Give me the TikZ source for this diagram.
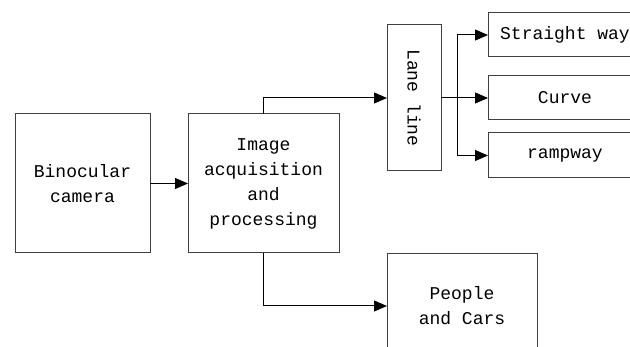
\documentclass[tikz,border=0pt]{standalone}
\usepackage{fontspec}
\setmonofont{Liberation Mono}
\usetikzlibrary{arrows.meta}
\begin{document}
\begin{tikzpicture}[x=1pt,y=-1pt,
  box/.style={draw=black!75,line width=1pt,inner sep=0pt,outer sep=0pt,rectangle,
    font=\ttfamily\fontsize{18}{25}\selectfont,align=center},
  conn/.style={draw=black,line width=1pt,-{Triangle[length=13pt,width=11pt]}},
  plain/.style={draw=black,line width=1pt}]
\useasboundingbox (0,0) rectangle (630,347);
\clip (0,0) rectangle (630,347);
\fill[white] (0,0) rectangle (630,347);
\node[box,minimum width=135pt,minimum height=139pt] (cam) at (82.5,183.5) {Binocular\\camera};
\node[box,minimum width=151pt,minimum height=139pt] (img) at (263.5,183.5) {Image\\acquisition\\and\\processing};
\node[box,minimum width=54pt,minimum height=146pt] (lane) at (414,98) {};
\node[font=\ttfamily\fontsize{18}{25}\selectfont,rotate=-90,inner sep=0pt] (lanetxt) at (lane.center) {Lane line};
\node[box,minimum width=154pt,minimum height=44pt] (sw) at (565,35) {Straight way};
\node[box,minimum width=154pt,minimum height=44pt] (cv) at (565,98) {Curve};
\node[box,minimum width=154pt,minimum height=45pt] (rw) at (565,155.5) {rampway};
\node[box,minimum width=150pt,minimum height=104pt] (pc) at (462,306) {People\\and Cars};
\coordinate (br) at (457,98);
\draw[conn] (cam.east) -- (img.west);
\draw[conn] (img.north) |- (lane.west);
\draw[plain] (lane.east) -- (br);
\draw[conn] (br) |- (sw.west);
\draw[conn] (br) -- (cv.west);
\draw[conn] (br) |- (rw.west);
\draw[conn] (img.south) |- (pc.west);
\end{tikzpicture}
\end{document}
